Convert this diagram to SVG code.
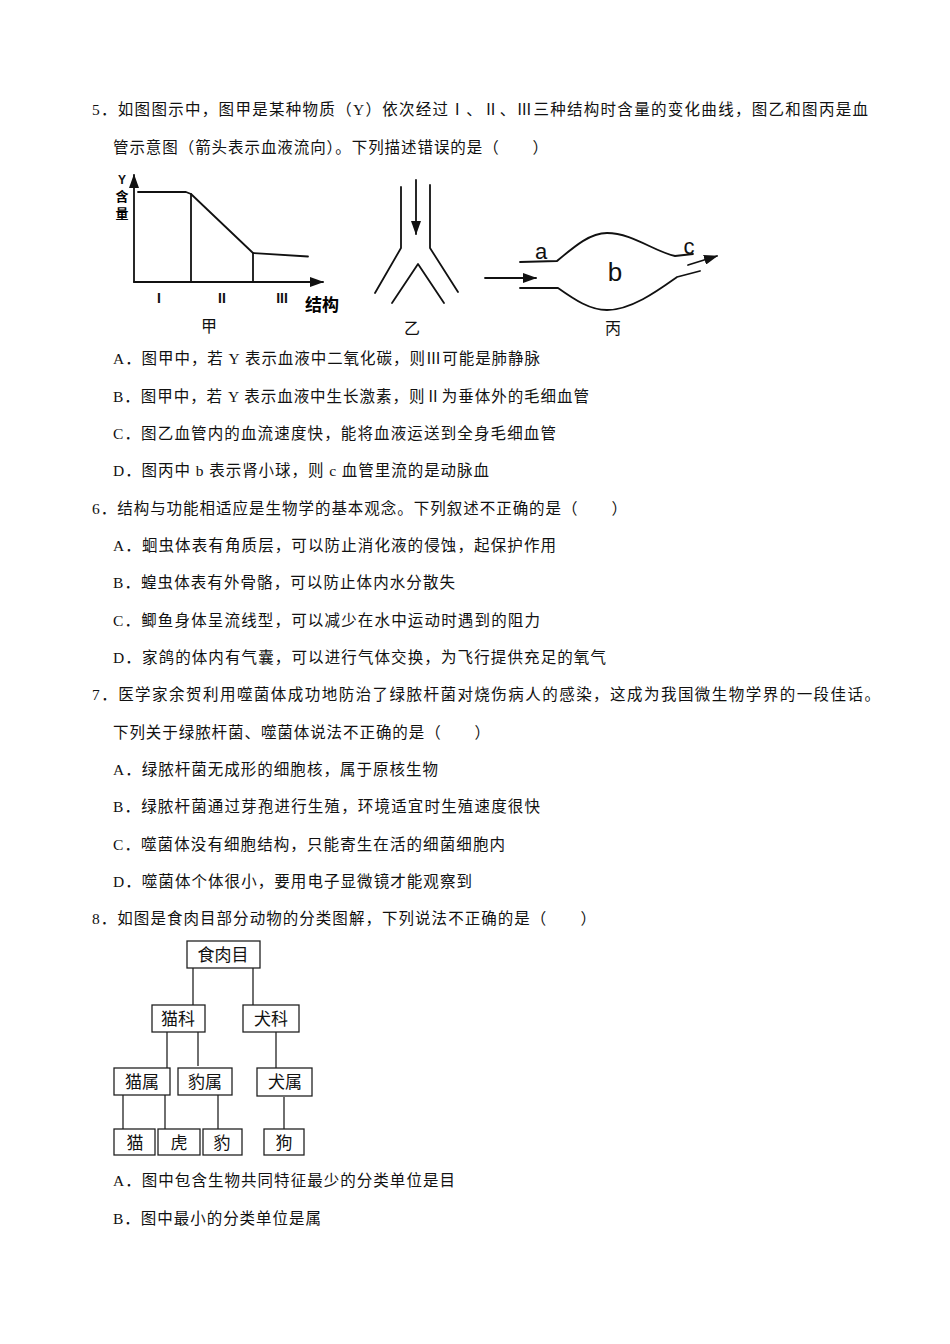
<svg xmlns="http://www.w3.org/2000/svg" width="950" height="1344" viewBox="0 0 950 1344">
<style>
.t{font-family:"Liberation Serif","Noto Sans CJK SC",serif;font-size:15.5px;fill:#111}
.ln{stroke:#111;stroke-width:1.8;fill:none;stroke-linecap:round;stroke-linejoin:round}
.box{fill:#fff;stroke:#222;stroke-width:1.3}
.bt{font-family:"Noto Sans CJK SC",sans-serif;font-size:17px;fill:#111;text-anchor:middle}
.lbl{font-family:"Liberation Sans","Noto Sans CJK SC",sans-serif;fill:#111}
.cap{font-family:"Noto Sans CJK SC",sans-serif;font-size:16px;fill:#111;text-anchor:middle}
.tl{stroke:#222;stroke-width:1.3;fill:none}
</style>
<defs>
<marker id="ah" markerUnits="userSpaceOnUse" markerWidth="14" markerHeight="10" refX="13" refY="5" orient="auto">
<path d="M0,0 L14,5 L0,10 Z" fill="#111"/>
</marker>
</defs>
<rect width="950" height="1344" fill="#fff"/>

<g id="text">
<text class="t" x="92" y="115" textLength="776" lengthAdjust="spacing">5．如图图示中，图甲是某种物质（Y）依次经过Ⅰ、Ⅱ、Ⅲ三种结构时含量的变化曲线，图乙和图丙是血</text>
<text class="t" x="113" y="153" textLength="435" lengthAdjust="spacing">管示意图（箭头表示血液流向）。下列描述错误的是（　　）</text>
<text class="t" x="113" y="364" textLength="427" lengthAdjust="spacing">A．图甲中，若 Y 表示血液中二氧化碳，则Ⅲ可能是肺静脉</text>
<text class="t" x="113" y="402" textLength="476" lengthAdjust="spacing">B．图甲中，若 Y 表示血液中生长激素，则Ⅱ为垂体外的毛细血管</text>
<text class="t" x="113" y="439" textLength="443" lengthAdjust="spacing">C．图乙血管内的血流速度快，能将血液运送到全身毛细血管</text>
<text class="t" x="113" y="476" textLength="376" lengthAdjust="spacing">D．图丙中 b 表示肾小球，则 c 血管里流的是动脉血</text>
<text class="t" x="92" y="514" textLength="535" lengthAdjust="spacing">6．结构与功能相适应是生物学的基本观念。下列叙述不正确的是（　　）</text>
<text class="t" x="113" y="551" textLength="443" lengthAdjust="spacing">A．蛔虫体表有角质层，可以防止消化液的侵蚀，起保护作用</text>
<text class="t" x="113" y="588" textLength="342" lengthAdjust="spacing">B．蝗虫体表有外骨骼，可以防止体内水分散失</text>
<text class="t" x="113" y="626" textLength="427" lengthAdjust="spacing">C．鲫鱼身体呈流线型，可以减少在水中运动时遇到的阻力</text>
<text class="t" x="113" y="663" textLength="493" lengthAdjust="spacing">D．家鸽的体内有气囊，可以进行气体交换，为飞行提供充足的氧气</text>
<text class="t" x="92" y="700" textLength="788" lengthAdjust="spacing">7．医学家余贺利用噬菌体成功地防治了绿脓杆菌对烧伤病人的感染，这成为我国微生物学界的一段佳话。</text>
<text class="t" x="113" y="738" textLength="377" lengthAdjust="spacing">下列关于绿脓杆菌、噬菌体说法不正确的是（　　）</text>
<text class="t" x="113" y="775" textLength="325" lengthAdjust="spacing">A．绿脓杆菌无成形的细胞核，属于原核生物</text>
<text class="t" x="113" y="812" textLength="427" lengthAdjust="spacing">B．绿脓杆菌通过芽孢进行生殖，环境适宜时生殖速度很快</text>
<text class="t" x="113" y="850" textLength="392" lengthAdjust="spacing">C．噬菌体没有细胞结构，只能寄生在活的细菌细胞内</text>
<text class="t" x="113" y="887" textLength="359" lengthAdjust="spacing">D．噬菌体个体很小，要用电子显微镜才能观察到</text>
<text class="t" x="92" y="924" textLength="504" lengthAdjust="spacing">8．如图是食肉目部分动物的分类图解，下列说法不正确的是（　　）</text>
<text class="t" x="113" y="1186" textLength="342" lengthAdjust="spacing">A．图中包含生物共同特征最少的分类单位是目</text>
<text class="t" x="113" y="1224" textLength="208" lengthAdjust="spacing">B．图中最小的分类单位是属</text>
</g>

<g id="fig-jia">
<line class="ln" x1="134" y1="282" x2="134" y2="175" marker-end="url(#ah)"/>
<line class="ln" x1="134" y1="282" x2="323" y2="282" marker-end="url(#ah)"/>
<polyline class="ln" points="138,192 186,192 191,194 253,253 308,256.5"/>
<line class="ln" x1="191" y1="194" x2="191" y2="282"/>
<line class="ln" x1="253" y1="253" x2="253" y2="282"/>
<text class="lbl" x="122" y="184" font-size="12" font-weight="bold" text-anchor="middle">Y</text>
<text x="122" y="201" font-size="13" font-weight="bold" text-anchor="middle" font-family="Noto Sans CJK SC,sans-serif">含</text>
<text x="122" y="218" font-size="13" font-weight="bold" text-anchor="middle" font-family="Noto Sans CJK SC,sans-serif">量</text>
<text class="lbl" x="159" y="303" font-size="14" font-weight="bold" text-anchor="middle">I</text>
<text class="lbl" x="222" y="303" font-size="14" font-weight="bold" text-anchor="middle">II</text>
<text class="lbl" x="282" y="303" font-size="14" font-weight="bold" text-anchor="middle">III</text>
<text x="322" y="311" font-size="17" font-weight="bold" text-anchor="middle" font-family="Noto Sans CJK SC,sans-serif">结构</text>
<text class="cap" x="209" y="332">甲</text>
</g>

<g id="fig-yi">
<polyline class="ln" points="401,187 401,248 375,293"/>
<polyline class="ln" points="430,185 430,248 458,292"/>
<polyline class="ln" points="392,303 418,264 444,303"/>
<line class="ln" x1="416" y1="180" x2="416" y2="234" marker-end="url(#ah)"/>
<text class="cap" x="412" y="334">乙</text>
</g>

<g id="fig-bing">
<path class="ln" d="M520,262 L557,261 C575,246 590,233 607,233 C632,233 655,252 675,256 L693,254"/>
<path class="ln" d="M520,288 L558,288 C575,300 590,310 607,310 C632,310 660,289 677,277 L700,271"/>
<line class="ln" x1="485" y1="278" x2="536" y2="278" marker-end="url(#ah)"/>
<line class="ln" x1="688" y1="265" x2="717" y2="256" marker-end="url(#ah)"/>
<text class="lbl" x="541" y="259" font-size="22" text-anchor="middle">a</text>
<text class="lbl" x="615" y="281" font-size="26" text-anchor="middle">b</text>
<text class="lbl" x="689" y="254" font-size="22" text-anchor="middle">c</text>
<text class="cap" x="613" y="334">丙</text>
</g>

<g id="tree-connectors">
<line class="tl" x1="193" y1="968" x2="193" y2="1005"/>
<line class="tl" x1="253" y1="968" x2="253" y2="1005"/>
<line class="tl" x1="167" y1="1032" x2="167" y2="1068"/>
<line class="tl" x1="198" y1="1032" x2="198" y2="1066"/>
<line class="tl" x1="276" y1="1032" x2="276" y2="1068"/>
<line class="tl" x1="123" y1="1095" x2="123" y2="1130"/>
<line class="tl" x1="165" y1="1095" x2="165" y2="1130"/>
<line class="tl" x1="218" y1="1095" x2="218" y2="1135"/>
<line class="tl" x1="284" y1="1097" x2="284" y2="1130"/>
</g>

<g id="n-shirou"><rect class="box" x="187" y="941" width="73" height="27"/><text class="bt" x="223" y="961">食肉目</text></g>
<g id="n-maoke"><rect class="box" x="152" y="1005" width="53" height="27"/><text class="bt" x="178" y="1025">猫科</text></g>
<g id="n-quanke"><rect class="box" x="243" y="1005" width="56" height="27"/><text class="bt" x="271" y="1025">犬科</text></g>
<g id="n-maoshu"><rect class="box" x="114" y="1068" width="56" height="27"/><text class="bt" x="142" y="1088">猫属</text></g>
<g id="n-baoshu"><rect class="box" x="178" y="1068" width="54" height="27"/><text class="bt" x="205" y="1088">豹属</text></g>
<g id="n-quanshu"><rect class="box" x="257" y="1068" width="55" height="28"/><text class="bt" x="285" y="1088">犬属</text></g>
<g id="n-mao"><rect class="box" x="114" y="1129" width="41" height="26"/><text class="bt" x="135" y="1149">猫</text></g>
<g id="n-hu"><rect class="box" x="158" y="1129" width="42" height="26"/><text class="bt" x="179" y="1149">虎</text></g>
<g id="n-bao"><rect class="box" x="203" y="1129" width="39" height="26"/><text class="bt" x="222" y="1149">豹</text></g>
<g id="n-gou"><rect class="box" x="264" y="1129" width="40" height="26"/><text class="bt" x="284" y="1149">狗</text></g>
</svg>
